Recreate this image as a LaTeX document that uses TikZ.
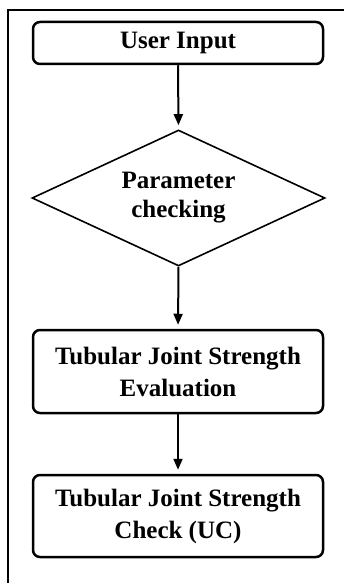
\documentclass[tikz,border=0pt]{standalone}
\usepackage{fontspec}
\setmainfont{Liberation Serif}
\usetikzlibrary{shapes.geometric,arrows.meta}
\begin{document}
\begin{tikzpicture}[x=1pt,y=1pt,
  box/.style={draw,line width=2.5pt,rounded corners=7pt,minimum width=290pt,inner sep=0pt,align=center,
    font=\fontsize{25}{32}\selectfont\bfseries},
  dia/.style={draw,diamond,aspect=2.15,line width=1.6pt,minimum width=293pt,minimum height=136pt,inner sep=0pt,align=center,
    font=\fontsize{25}{29}\selectfont\bfseries},
  arr/.style={line width=2pt,-{Triangle[length=11pt,width=9pt]},shorten >=4pt},
  frame/.style={line width=1.5pt}]
\useasboundingbox (0,0) rectangle (344,-583);
\coordinate (ftr) at (344,-10);
\coordinate (ftl) at (8,-10);
\coordinate (fbl) at (8,-583);
\draw[frame] (ftr) -- (ftl) -- (fbl);
\node[box,minimum height=42pt] (b1) at (178,-43) {User Input};
\node[dia] (d) at (178.5,-198) {Parameter\\checking};
\node[box,minimum height=83pt] (b3) at (178,-371.5) {Tubular Joint Strength\\Evaluation};
\node[box,minimum height=82pt] (b4) at (178,-516) {Tubular Joint Strength\\Check (UC)};
\draw[arr] (b1.south) -- (d.north);
\draw[arr] (d.south) -- (b3.north);
\draw[arr] (b3.south) -- (b4.north);
\end{tikzpicture}
\end{document}
